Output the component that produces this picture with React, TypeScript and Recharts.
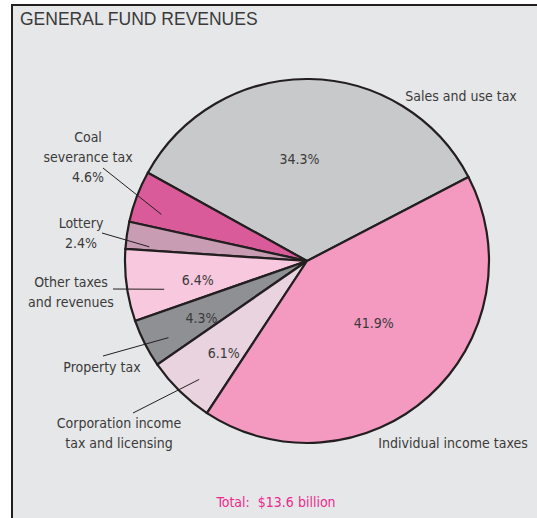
import { PieChart, Pie, Cell } from 'recharts'

// revenue shares in percent, counter-clockwise from the sales/income boundary
const categories = [
  'Sales and use tax',
  'Coal severance tax',
  'Lottery',
  'Other taxes and revenues',
  'Property tax',
  'Corporation income tax and licensing',
  'Individual income taxes',
]
const shares = [34.3, 4.6, 2.4, 6.4, 4.3, 6.1, 41.9]
const totalLabel = 'Total:  $13.6 billion'

const COLORS = ['#c8c9cb', '#da5b99', '#c89db3', '#f8c8de', '#8f9093', '#e8d3de', '#f49ac1']

const FONT = "'DejaVu Sans Condensed', 'Liberation Sans Narrow', sans-serif"
const INK = '#231f20'
const TEXT = '#3a3a3a'

// label placement, offsets relative to the pie centre
type LabelLayout = {
  lines: string[]
  withPct: boolean
  name: [number, number]
  pct?: { r: number; da: number }
  leader?: { from: [number, number]; r: number; da: number }
}

const LAYOUT: LabelLayout[] = [
  { lines: ['Sales and use tax'], withPct: false, name: [154, -165], pct: { r: 0.56, da: 5 } },
  { lines: ['Coal', 'severance tax'], withPct: true, name: [-219, -124], leader: { from: [-204, -93], r: 0.84, da: 3 } },
  { lines: ['Lottery'], withPct: true, name: [-226, -38], leader: { from: [-205, -28], r: 0.87, da: 3 } },
  { lines: ['Other taxes', 'and revenues'], withPct: false, name: [-236, 21], pct: { r: 0.61, da: 2.3 }, leader: { from: [-194, 28], r: 0.8, da: 3.5 } },
  { lines: ['Property tax'], withPct: false, name: [-205, 106], pct: { r: 0.66, da: 1.5 }, leader: { from: [-204, 95], r: 0.87, da: 2 } },
  { lines: ['Corporation income', 'tax and licensing'], withPct: false, name: [-188, 162], pct: { r: 0.68, da: 2 }, leader: { from: [-174, 152], r: 0.88, da: 2 } },
  { lines: ['Individual income taxes'], withPct: false, name: [146, 182], pct: { r: 0.5, da: 5 } },
]

const data = categories.map((name, i) => ({ name, value: shares[i] }))

const RAD = Math.PI / 180
const polar = (cx: number, cy: number, r: number, deg: number) => ({
  x: cx + r * Math.cos(-deg * RAD),
  y: cy + r * Math.sin(-deg * RAD),
})

function SliceLabel(props: any) {
  const { cx, cy, midAngle, outerRadius, index, value } = props
  const lay = LAYOUT[index]
  const pctText = `${value.toFixed(1)}%`
  const lines = lay.withPct ? [...lay.lines, pctText] : lay.lines
  const textStyle = { fontFamily: FONT, fontSize: 14, fill: TEXT }
  const nx = cx + lay.name[0]
  const ny = cy + lay.name[1]

  let leader = null
  if (lay.leader) {
    const end = polar(cx, cy, outerRadius * lay.leader.r, midAngle + lay.leader.da)
    leader = (
      <line
        x1={cx + lay.leader.from[0]}
        y1={cy + lay.leader.from[1]}
        x2={end.x}
        y2={end.y}
        stroke={INK}
        strokeWidth={1}
      />
    )
  }

  let pct = null
  if (lay.pct) {
    const p = polar(cx, cy, outerRadius * lay.pct.r, midAngle + lay.pct.da)
    pct = (
      <text x={p.x} y={p.y} dy="0.36em" textAnchor="middle" style={textStyle}>
        {pctText}
      </text>
    )
  }

  return (
    <g>
      {leader}
      {pct}
      <text x={nx} y={ny} textAnchor="middle" style={textStyle}>
        {lines.map((l, i) => (
          <tspan key={i} x={nx} dy={i === 0 ? '0.36em' : 20}>
            {l}
          </tspan>
        ))}
      </text>
    </g>
  )
}

export default function App() {
  return (
    <div style={{ position: 'absolute', left: 0, top: 0, width: 537, height: 518, background: '#fff' }}>
      <div
        style={{
          position: 'absolute',
          left: 11,
          top: 4,
          width: 526,
          height: 514,
          boxSizing: 'border-box',
          background: '#e6e7e8',
          borderTop: `2.5px solid ${INK}`,
          borderLeft: `2.5px solid ${INK}`,
        }}
      />
      <svg width={537} height={518} style={{ position: 'absolute', left: 0, top: 0 }}>
        <text x={20} y={25} style={{ fontFamily: "'Liberation Sans', Arial, sans-serif", fontSize: 17.5, fill: TEXT }}>
          GENERAL FUND REVENUES
        </text>
        <text
          x={276}
          y={507}
          textAnchor="middle"
          style={{ fontFamily: FONT, fontSize: 14, fill: '#ec2a8d', whiteSpace: 'pre' }}
        >
          {totalLabel}
        </text>
      </svg>
      <div style={{ position: 'absolute', left: 0, top: 0 }}>
        <PieChart width={537} height={518}>
          <Pie
            data={data}
            dataKey="value"
            nameKey="name"
            cx={302}
            cy={256}
            outerRadius={182}
            startAngle={27.5}
            endAngle={387.5}
            stroke={INK}
            strokeWidth={2.2}
            label={SliceLabel}
            labelLine={false}
            isAnimationActive={false}
          >
            {data.map((d, i) => (
              <Cell key={d.name} fill={COLORS[i]} />
            ))}
          </Pie>
        </PieChart>
      </div>
    </div>
  )
}
